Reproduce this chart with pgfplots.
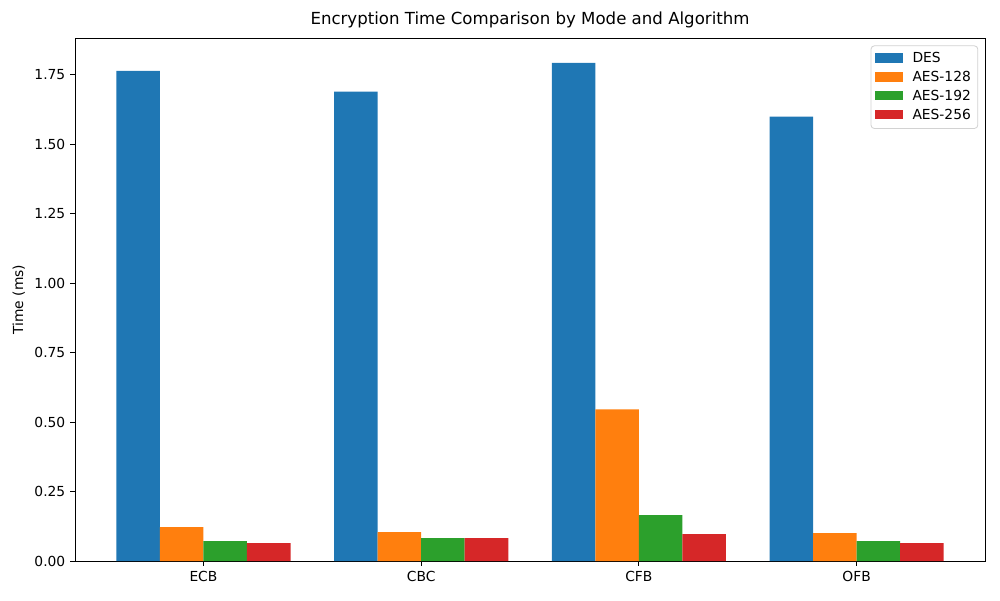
\documentclass[border=0pt]{standalone}
\usepackage{pgfplots}
\pgfplotsset{compat=1.18}
\usepackage{fontspec}
\setmainfont{DejaVu Sans}
\definecolor{c1}{HTML}{1F77B4}
\definecolor{c2}{HTML}{FF7F0E}
\definecolor{c3}{HTML}{2CA02C}
\definecolor{c4}{HTML}{D62728}
\begin{document}
\begin{tikzpicture}
\useasboundingbox (-54.2pt,-28.2pt) rectangle (668.5pt,405.5pt);
\begin{axis}[
  at={(0,0)}, anchor=south west,
  scale only axis, width=657.7pt, height=378pt,
  xmin=-0.59, xmax=3.59, ymin=0, ymax=1.882,
  xtick={0,1,2,3}, xticklabels={ECB,CBC,CFB,OFB},
  ytick={0,0.25,0.5,0.75,1,1.25,1.5,1.75},
  yticklabel style={/pgf/number format/.cd,fixed,fixed zerofill,precision=2},
  /pgf/number format/assume math mode=true,
  tick align=outside, xtick pos=bottom, ytick pos=left,
  major tick length=3.5pt,
  tick style={black, line width=0.6pt},
  axis line style={line width=0.6pt},
  ticklabel style={font=\fontsize{10}{12}\selectfont},
  ylabel={Time (ms)}, ylabel style={font=\fontsize{10}{12}\selectfont},
  title={Encryption Time Comparison by Mode and Algorithm},
  title style={font=\fontsize{12}{14}\selectfont, yshift=-2pt},
  ybar, bar width=0.2, bar shift=0pt,
  legend style={at={(0.9925,0.986)}, anchor=north east, font=\fontsize{10}{12}\selectfont,
    draw=gray!35, line width=0.6pt, rounded corners=2.5pt, row sep=0.7pt, column sep=5pt,
    inner xsep=3pt, inner ysep=3pt},
  legend cell align=left,
  area legend,
  legend image code/.code={\fill[#1, sharp corners] (0pt,-2.8pt) rectangle (20pt,4.2pt);},
]
\addplot[fill=c1, draw=none] coordinates {(-0.3,1.764) (0.7,1.689) (1.7,1.793) (2.7,1.599)};
\addplot[fill=c2, draw=none] coordinates {(-0.1,0.122) (0.9,0.104) (1.9,0.546) (2.9,0.101)};
\addplot[fill=c3, draw=none] coordinates {(0.1,0.072) (1.1,0.083) (2.1,0.165) (3.1,0.072)};
\addplot[fill=c4, draw=none] coordinates {(0.3,0.065) (1.3,0.083) (2.3,0.097) (3.3,0.065)};
\legend{DES,AES-128,AES-192,AES-256}
\end{axis}
\end{tikzpicture}
\end{document}
